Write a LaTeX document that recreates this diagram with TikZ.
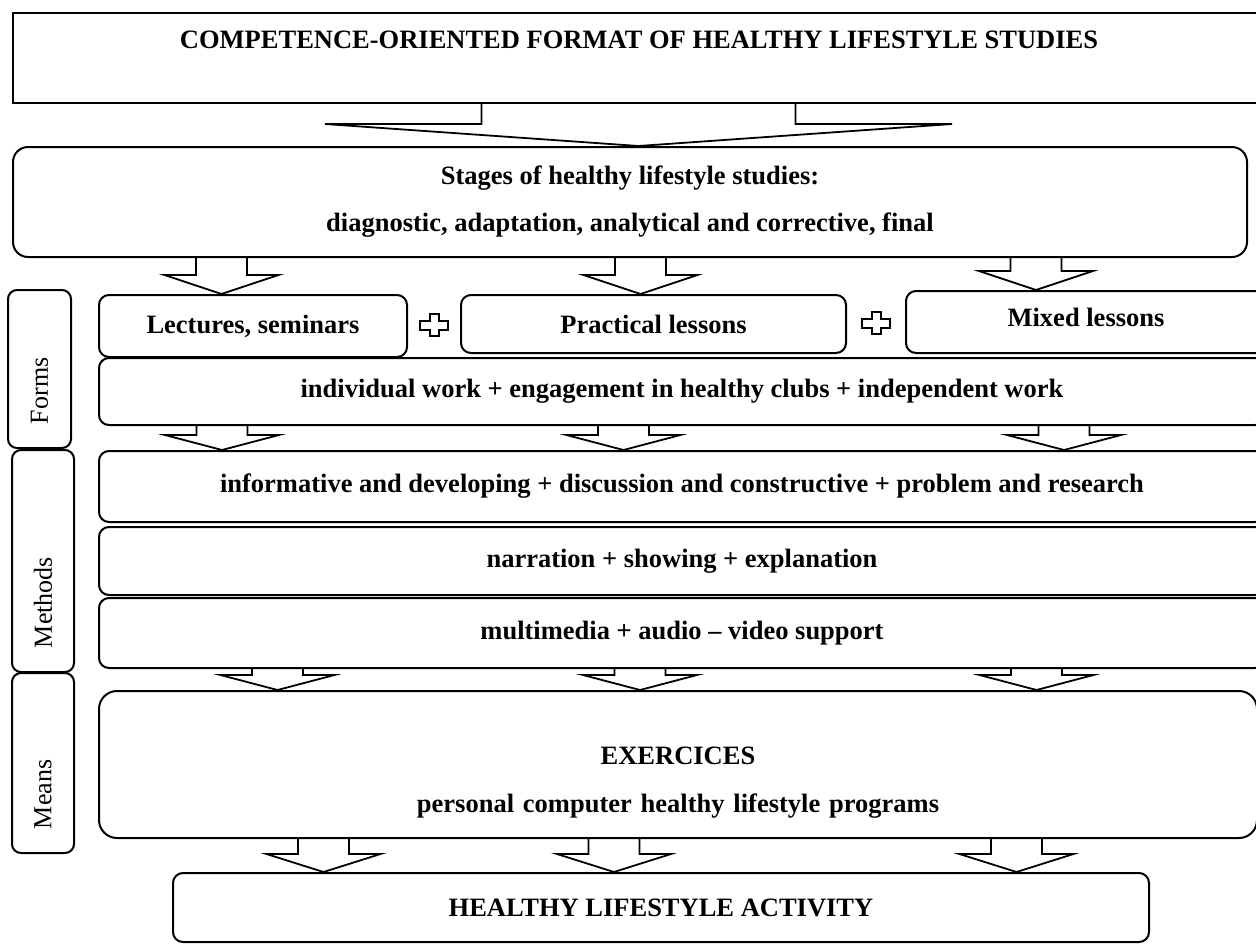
\documentclass[tikz,border=0pt]{standalone}
\usepackage{fontspec}
\setmainfont{Liberation Serif}
\usetikzlibrary{positioning,calc}
\tikzset{
  box/.style={rectangle,rounded corners=10pt,draw=black,line width=2pt,
              align=center,inner sep=0pt,anchor=north west,
              font=\fontsize{26.5}{32}\selectfont\bfseries},
  sidebox/.style={rectangle,rounded corners=9pt,draw=black,line width=2pt,
              rotate=90,align=left,inner xsep=24pt,inner ysep=0pt,
              font=\fontsize{26}{30}\selectfont},
  blockarr/.style={draw=black,line width=1.8pt,line join=miter},
  plusline/.style={draw=black,line width=2pt}
}
% hollow down arrow: tip x, upper node, lower node, head length
\newcommand{\blockarrow}[4]{%
  \draw[blockarr] let \p1=(#2.south), \p2=(#3.north) in
    (#1pt-25.5pt,\y1) -- (#1pt-25.5pt,\y2+#4pt) -- (#1pt-57pt,\y2+#4pt)
    -- (#1pt,\y2) -- (#1pt+57pt,\y2+#4pt) -- (#1pt+25.5pt,\y2+#4pt)
    -- (#1pt+25.5pt,\y1);
}
% hollow plus sign between two boxes
\newcommand{\plusmark}[2]{%
  \draw[plusline,shift={($(#1.east)!0.5!(#2.west)$)}]
    (-4.5,-11) -- (4.5,-11) -- (4.5,-4.5) -- (14,-4.5) -- (14,4.5) -- (4.5,4.5)
    -- (4.5,11) -- (-4.5,11) -- (-4.5,4.5) -- (-14,4.5) -- (-14,-4.5) -- (-4.5,-4.5) -- cycle;
}

\begin{document}
\begin{tikzpicture}[x=1pt,y=-1pt]
  \useasboundingbox (0,0) rectangle (1256,943);

  \node[box,rounded corners=0pt,minimum width=1252pt,minimum height=90pt,
        text height=10pt,text depth=30pt] (format) at (12,12)
        {COMPETENCE-ORIENTED FORMAT OF HEALTHY LIFESTYLE STUDIES};
  \node[box,rounded corners=15pt,minimum width=1234pt,minimum height=110pt] (stages) at (12,146)
        {Stages of healthy lifestyle studies:\\[15pt]
         diagnostic, adaptation, analytical and corrective, final};

  % Forms
  \node[box,minimum width=308pt,minimum height=62pt] (lectures) at (98,294) {Lectures, seminars};
  \node[box,minimum width=385pt,minimum height=58pt] (practical) at (460,294) {Practical lessons};
  \node[box,minimum width=360pt,minimum height=62pt,
        text height=18pt,text depth=10pt] (mixed) at (905,290) {Mixed lessons};
  \node[box,minimum width=1166pt,minimum height=67pt] (individual) at (98,357)
        {individual work + engagement in healthy clubs + independent work};

  % Methods
  \node[box,minimum width=1166pt,minimum height=71pt] (informative) at (98,450)
        {informative and developing + discussion and constructive + problem and research};
  \node[box,below=3pt of informative.south west,anchor=north west,
        minimum width=1166pt,minimum height=68pt] (narration)
        {narration + showing + explanation};
  \node[box,below=1pt of narration.south west,anchor=north west,
        minimum width=1166pt,minimum height=70pt] (multimedia)
        {multimedia + audio -- video support};

  % Means
  \node[box,rounded corners=18pt,minimum width=1158pt,minimum height=147pt,
        text width=1100pt,text height=20pt,text depth=20pt] (exercices) at (98,690)
        {EXERCICES\\[16pt] personal computer healthy lifestyle programs};
  \node[box,minimum width=976pt,minimum height=69pt] (activity) at (172,872)
        {HEALTHY LIFESTYLE ACTIVITY};

  % side labels
  \node[sidebox,minimum width=158pt,minimum height=63pt,text width=110pt] (forms) at (39.5,369) {Forms};
  \node[sidebox,minimum width=222pt,minimum height=62pt,text width=174pt] (methods) at (43,561) {Methods};
  \node[sidebox,minimum width=180pt,minimum height=62pt,text width=132pt] (means) at (43,763) {Means};

  % big arrow
  \draw[blockarr] let \p1=(format.south), \p2=(stages.north) in
    (481.5pt,\y1) -- (481.5pt,\y2+22pt) -- (325pt,\y2+22pt) -- (638.5pt,\y2)
    -- (952pt,\y2+22pt) -- (795.5pt,\y2+22pt) -- (795.5pt,\y1);

  % Arrows
  \blockarrow{221.5}{stages}{lectures}{19}
  \blockarrow{640.5}{stages}{practical}{19}
  \blockarrow{1036}{stages}{mixed}{19}
  \blockarrow{222}{individual}{informative}{15}
  \blockarrow{623.5}{individual}{informative}{15}
  \blockarrow{1064}{individual}{informative}{15}
  \blockarrow{277.5}{multimedia}{exercices}{15}
  \blockarrow{640}{multimedia}{exercices}{15}
  \blockarrow{1036.5}{multimedia}{exercices}{15}
  \blockarrow{323.5}{exercices}{activity}{18}
  \blockarrow{614}{exercices}{activity}{18}
  \blockarrow{1016.5}{exercices}{activity}{18}

  \plusmark{lectures}{practical}
  \plusmark{practical}{mixed}
\end{tikzpicture}
\end{document}
